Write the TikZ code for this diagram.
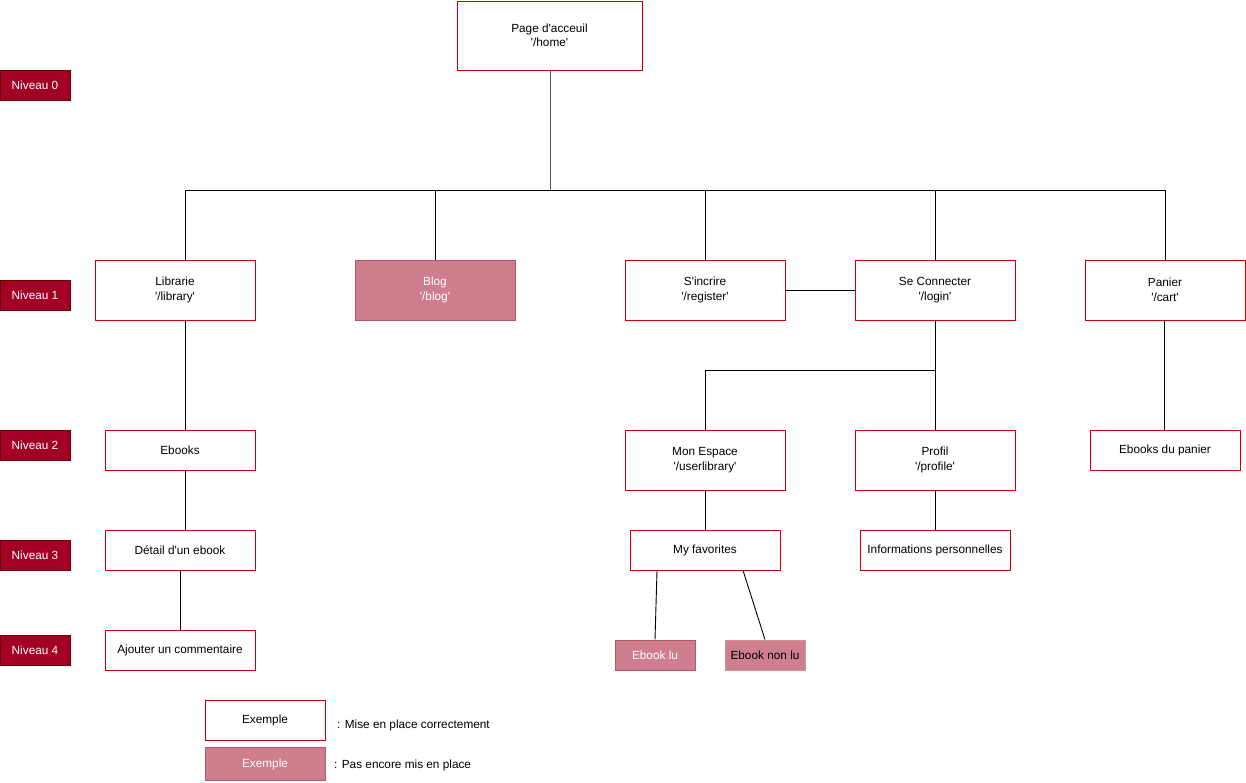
\documentclass[tikz,border=0pt]{standalone}
\usepackage{fontspec}
\setmainfont{Liberation Sans}[Ligatures=TeXOff]
\definecolor{redb}{HTML}{CC0000}
\definecolor{lvlfill}{HTML}{A20025}
\definecolor{lvlborder}{HTML}{6F0000}
\definecolor{pinkfill}{HTML}{CF7E8E}
\definecolor{pinkborder}{HTML}{B5566A}
\definecolor{linegray}{HTML}{555555}
\begin{document}
\begin{tikzpicture}[x=1pt,y=-1pt,
  every node/.style={font=\fontsize{11.8}{14.5}\selectfont, align=center, inner sep=0pt},
  page/.style={draw=redb, fill=white, line width=0.9pt},
  todo/.style={draw=pinkborder, fill=pinkfill, text=white, line width=0.9pt},
  lvl/.style={draw=lvlborder, fill=lvlfill, text=white, minimum width=70, minimum height=30, line width=0.9pt},
  conn/.style={draw=black, line width=0.9pt},
  connG/.style={draw=linegray, line width=0.9pt}]
\useasboundingbox (0,0) rectangle (1246,782);
% levels
\node[lvl] (n0) at (35,85) {Niveau 0};
\node[lvl] (n1) at (35,295) {Niveau 1};
\node[lvl] (n2) at (35,445) {Niveau 2};
\node[lvl] (n3) at (35,555) {Niveau 3};
\node[lvl] (n4) at (35,650) {Niveau 4};
% pages
\node[page, minimum width=185, minimum height=69] (home) at (549.5,35.5) {Page d'acceuil\\'/home'};
\node[page, minimum width=160, minimum height=60] (lib) at (175,290) {Librarie\\'/library'};
\node[todo, minimum width=160, minimum height=60] (blog) at (435,290) {Blog\\'/blog'};
\node[page, minimum width=160, minimum height=60] (reg) at (705,290) {S'incrire\\'/register'};
\node[page, minimum width=160, minimum height=60] (login) at (935,290) {Se Connecter\\'/login'};
\node[page, minimum width=160, minimum height=60] (cart) at (1165,290) {Panier\\'/cart'};
\node[page, minimum width=150, minimum height=40] (ebooks) at (180,450) {Ebooks};
\node[page, minimum width=150, minimum height=40] (det) at (180,550) {Détail d'un ebook};
\node[page, minimum width=150, minimum height=40] (com) at (180,650) {Ajouter un commentaire};
\node[page, minimum width=160, minimum height=60] (esp) at (705,460) {Mon Espace\\'/userlibrary'};
\node[page, minimum width=160, minimum height=60] (prof) at (935,460) {Profil\\'/profile'};
\node[page, minimum width=150, minimum height=40] (cartb) at (1165,450) {Ebooks du panier};
\node[page, minimum width=150, minimum height=40] (fav) at (705,550) {My favorites};
\node[page, minimum width=150, minimum height=40] (info) at (935,550) {Informations personnelles};
\node[todo, minimum width=80, minimum height=30] (lu) at (655,655) {Ebook lu};
\node[todo, draw=pinkfill!85!white, text=black, minimum width=80, minimum height=30] (nonlu) at (765,655) {Ebook non lu};
% legend
\node[page, minimum width=120, minimum height=40] (ex1) at (265,720) {Exemple};
\node[todo, minimum width=120, minimum height=33] (ex2) at (265,764) {Exemple};
\node[anchor=west] (lg1) at (337,725) {: Mise en place correctement};
\node[anchor=west] (lg2) at (334,765) {: Pas encore mis en place};
% connectors
\coordinate (j0) at (550,190);
\draw[connG] (home.south -| j0) -- (j0);
\draw[conn] (j0) -| ([xshift=10]lib.north);
\draw[conn] (j0) -| (blog.north);
\draw[conn] (j0) -| (reg.north);
\draw[conn] (j0) -| (login.north);
\draw[conn] (j0) -| (cart.north);
\draw[conn] (reg.east) -- (login.west);
\draw[conn] ([xshift=10]lib.south) -- ([xshift=5]ebooks.north);
\draw[conn] ([xshift=5]ebooks.south) -- ([xshift=5]det.north);
\draw[conn] (det.south) -- (com.north);
\coordinate (j1) at (935,370);
\draw[conn] (login.south) -- (j1) -| (esp.north);
\draw[conn] (j1) -- (prof.north);
\draw[conn] ([xshift=-1]cart.south) -- ([xshift=-1]cartb.north);
\draw[conn] (esp.south) -- (fav.north);
\draw[conn] (prof.south) -- (info.north);
\draw[conn] ([xshift=-48]fav.south) -- (lu.north);
\draw[conn] ([xshift=38]fav.south) -- (nonlu.north);
\end{tikzpicture}
\end{document}
